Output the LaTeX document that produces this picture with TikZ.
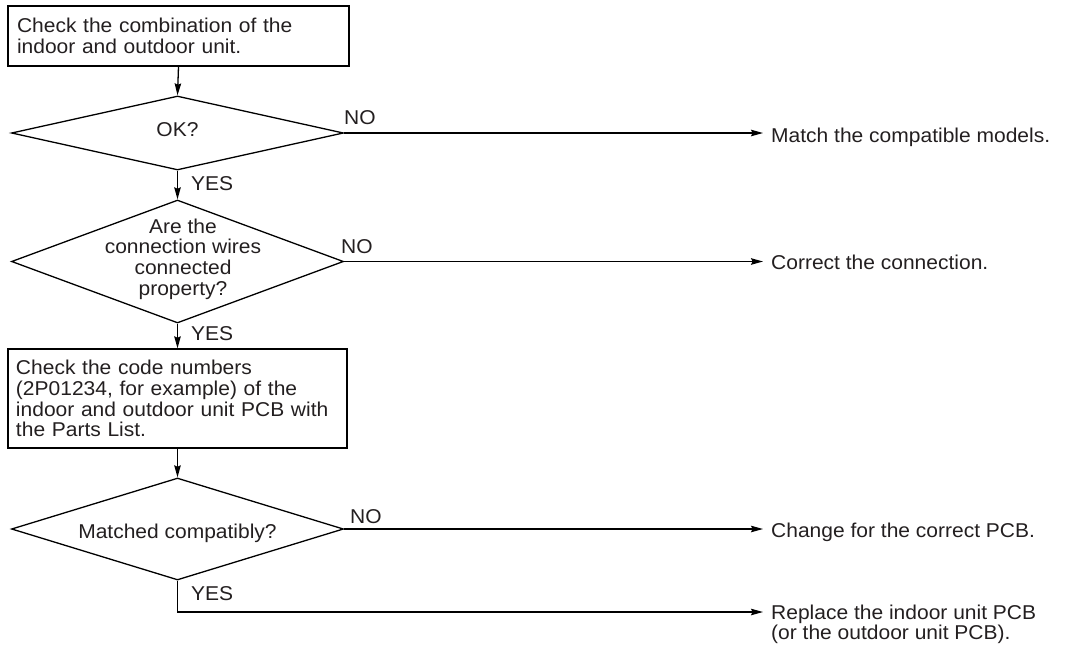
\documentclass[tikz,border=0pt]{standalone}
\usepackage{fontspec}
\setmainfont{Liberation Sans}[FakeStretch=1.05]
\usetikzlibrary{shapes.geometric,arrows.meta}
\definecolor{txt}{RGB}{35,31,32}
\begin{document}
\begin{tikzpicture}[x=1pt,y=-1pt,
  every node/.style={font=\fontsize{20}{20.7}\selectfont, text=txt},
  stepbox/.style={draw, line width=1.3pt, rectangle, align=left, inner ysep=0pt},
  decision/.style={draw, line width=1.3pt, diamond, inner sep=0pt},
  lbl/.style={inner sep=0pt, anchor=base west},
  conn/.style={line width=1.3pt},
  arr/.style={conn, -{Stealth[length=12pt,width=6.5pt,inset=1.5pt]}}]
\useasboundingbox (0,0) rectangle (1065,645);
% boxes
\node[stepbox, minimum width=341pt, minimum height=60pt, text width=323pt, inner xsep=9pt] (b1) at (178.5,36)
  {Check the combination of the\\indoor and outdoor unit.};
\node[stepbox, minimum width=339pt, minimum height=99pt, text width=323pt, inner xsep=8pt] (b2) at (177.5,398.5)
  {Check the code numbers\\(2P01234, for example) of the\\indoor and outdoor unit PCB with\\the Parts List.};
% diamonds
\node[decision, minimum width=332pt, minimum height=74pt] (d1) at (177.5,133) {};
\node[decision, minimum width=332pt, minimum height=123pt] (d2) at (177.5,261.5) {};
\node[decision, minimum width=332pt, minimum height=102pt] (d3) at (177.5,529) {};
\node[inner sep=0pt] (q1) at (177.5,130) {OK?};
\node[inner sep=0pt, align=center] (q2) at (183,259) {Are the\\connection wires\\connected\\property?};
\node[inner sep=0pt] (q3) at (177.5,533) {Matched compatibly?};
% result texts
\node[lbl] (r1) at (771,142.5) {Match the compatible models.};
\node[lbl] (r2) at (771,269) {Correct the connection.};
\node[lbl] (r3) at (771,537.5) {Change for the correct PCB.};
\node[inner sep=0pt, anchor=north west, align=left] (r4) at (771,604.5) {Replace the indoor unit PCB\\(or the outdoor unit PCB).};
\coordinate (e1) at (763,133);
\coordinate (e2) at (763,261.5);
\coordinate (e3) at (763,529);
\coordinate (e4) at (763,612);
% labels
\node[lbl] (n1) at (344,124) {NO};
\node[lbl] (y1) at (191,190) {YES};
\node[lbl] (n2) at (341,253) {NO};
\node[lbl] (y2) at (191,340) {YES};
\node[lbl] (n3) at (350,523) {NO};
\node[lbl] (y3) at (191,600) {YES};
% connectors
\draw[arr] (b1.south) -- (d1.north);
\draw[arr] (d1.south) -- (d2.north);
\draw[arr] (d2.south) -- (b2.north);
\draw[arr] (b2.south) -- (d3.north);
\draw[arr] (d1.east) -- (e1);
\draw[arr] (d2.east) -- (e2);
\draw[arr] (d3.east) -- (e3);
\draw[arr] (d3.south) |- (e4);
\end{tikzpicture}
\end{document}
